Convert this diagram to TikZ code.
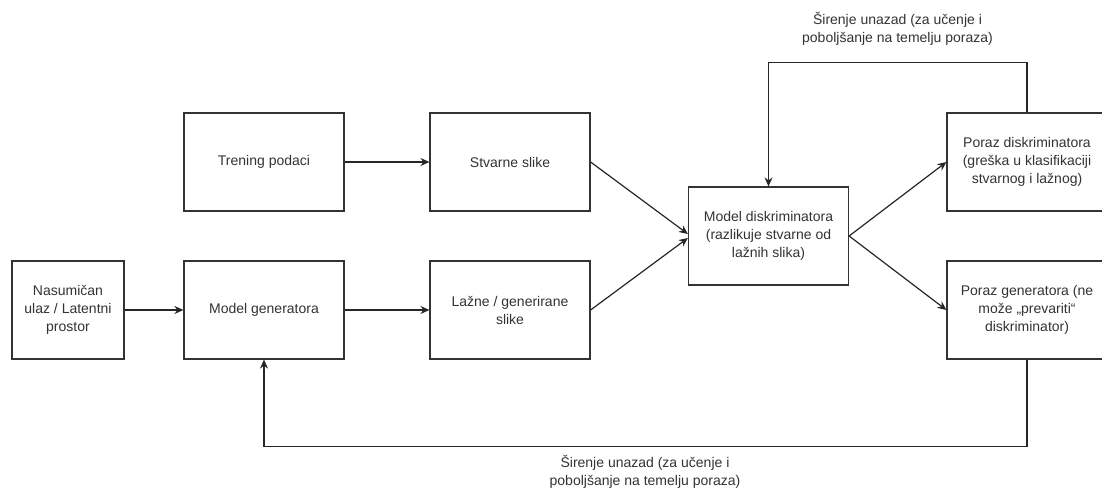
\documentclass[tikz,border=0pt]{standalone}
\usepackage{fontspec}
\setmainfont{Liberation Sans}
\usetikzlibrary{arrows.meta}
\definecolor{ink}{HTML}{333333}
\begin{document}
\begin{tikzpicture}[x=1pt,y=-1pt,
  box/.style={draw=ink, line width=1.2pt, rectangle, minimum width=160pt,
    minimum height=98pt, align=center, text=ink, inner sep=2pt,
    font=\fontsize{14}{18}\selectfont},
  link/.style={draw=black!85, line width=1.2pt,
    -{Stealth[length=9pt,width=8pt,inset=3pt]}},
  lbl/.style={align=center, text=ink, font=\fontsize{14}{18}\selectfont}]
  \clip (0,0) rectangle (1102,489);
  \fill[white] (0,0) rectangle (1102,489);

  % generator branch
  \node[box, minimum width=112pt] (in) at (68,310) {Nasumičan\\ulaz / Latentni\\prostor};
  \node[box] (gen) at (264,310) {Model generatora};
  \node[box] (fake) at (510,310) {Lažne / generirane\\slike};

  % real data branch
  \node[box] (train) at (264,162) {Trening podaci};
  \node[box] (real) at (510,162) {Stvarne slike};

  % discriminator and losses
  \node[box] (disc) at (768.5,236) {Model diskriminatora\\(razlikuje stvarne od\\lažnih slika)};
  \node[box] (pd) at (1027,162) {Poraz diskriminatora\\(greška u klasifikaciji\\stvarnog i lažnog)};
  \node[box] (pg) at (1027,310) {Poraz generatora (ne\\može „prevariti“\\diskriminator)};

  % forward flow
  \draw[link] (in) -- (gen);
  \draw[link] (gen) -- (fake);
  \draw[link] (train) -- (real);
  \draw[link] (real.east) -- ([yshift=2pt]disc.west);
  \draw[link] (fake.east) -- ([yshift=-2pt]disc.west);
  \draw[link] (disc.east) -- (pd.west);
  \draw[link] (disc.east) -- (pg.west);

  % feedback loops
  \draw[link] (pd.north) -- ++(0,-50) -| (disc.north);
  \draw[link] (pg.south) -- ++(0,87) -| (gen.south);

  \node[lbl] (toplbl) at (897.5,29) {Širenje unazad (za učenje i\\poboljšanje na temelju poraza)};
  \node[lbl] (botlbl) at (645,472) {Širenje unazad (za učenje i\\poboljšanje na temelju poraza)};
\end{tikzpicture}
\end{document}
